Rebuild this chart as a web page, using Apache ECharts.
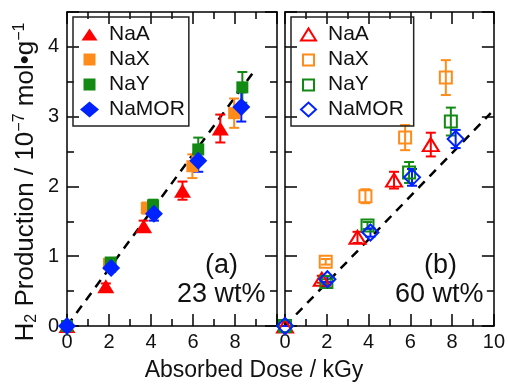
<!DOCTYPE html>
<html>
<head>
<meta charset="utf-8">
<script src="https://cdn.jsdelivr.net/npm/echarts@6/dist/echarts.min.js"></script>
<style>
html, body { margin: 0; padding: 0; background: #fff; }
#main { width: 508px; height: 384px; }
</style>
</head>
<body>
<div id="main"></div>
<script>
var myChart = echarts.init(document.getElementById('main'));

// [dose kGy, H2 production, error]
var left_NaA   = [[0, 0, 0], [1.85, 0.57, 0.04], [3.65, 1.43, 0.08], [5.5, 1.94, 0.13], [7.3, 2.83, 0.2]];
var left_NaX   = [[0, 0, 0], [2.0, 0.89, 0.05], [3.8, 1.69, 0.08], [5.97, 2.29, 0.17], [7.96, 3.05, 0.21]];
var left_NaY   = [[0, 0, 0], [2.08, 0.91, 0.05], [4.1, 1.73, 0.08], [6.25, 2.53, 0.17], [8.35, 3.42, 0.22]];
var left_NaMOR = [[0, 0, 0], [2.1, 0.83, 0.05], [4.14, 1.61, 0.1], [6.25, 2.37, 0.16], [8.3, 3.14, 0.21]];

var right_NaA   = [[0, 0, 0], [1.76, 0.67, 0.05], [3.47, 1.27, 0.08], [5.22, 2.09, 0.12], [6.98, 2.6, 0.17]];
var right_NaX   = [[0, 0, 0], [1.95, 0.92, 0.04], [3.85, 1.86, 0.1], [5.75, 2.7, 0.18], [7.7, 3.56, 0.25]];
var right_NaY   = [[0, 0, 0], [1.98, 0.63, 0.04], [3.95, 1.44, 0.05], [5.94, 2.2, 0.15], [7.94, 2.93, 0.2]];
var right_NaMOR = [[0, 0, 0], [2.03, 0.67, 0.04], [4.09, 1.34, 0.06], [6.08, 2.13, 0.12], [8.17, 2.68, 0.13]];

// dashed guide lines
var left_fit  = [[0, 0], [9.0, 3.69]];
var right_fit = [[0, 0], [9.85, 3.05]];

var names  = ['NaA', 'NaX', 'NaY', 'NaMOR'];
var colors = ['#ff0000', '#ff8c1a', '#138a13', '#0022ff'];
var symbols = ['triangle', 'rect', 'rect', 'diamond'];
var sizesFilled = [[17, 14], 12, 12, 18];
var sizesOpen = [[16, 13], 12, 12, 16];

// legend icons in a 19x16 box (corner points fix the box so shapes keep their own size)
var BOX = 'M0 0L0 0M19 16L19 16';
var iconsFilled = [
    'path://' + BOX + 'M1.5 14L17.5 14L9.5 2Z',
    'path://' + BOX + 'M3.5 2L15.5 2L15.5 14L3.5 14Z',
    'path://' + BOX + 'M3.5 2L15.5 2L15.5 14L3.5 14Z',
    'path://' + BOX + 'M0 8L9.5 0L19 8L9.5 16Z'
];
var iconsOpen = [
    'path://' + BOX + 'M2 14L17 14L9.5 2Z',
    'path://' + BOX + 'M4 3L15 3L15 14L4 14Z',
    'path://' + BOX + 'M4 3L15 3L15 14L4 14Z',
    'path://' + BOX + 'M2 8L9.5 1L17 8L9.5 15Z'
];

var FONT = 'Liberation Sans';

function xAxis(grid, pos, labels, hideTen) {
    return {
        gridIndex: grid, type: 'value', position: pos,
        min: 0, max: 10, interval: 2,
        axisLine: { onZero: false, lineStyle: { color: '#000', width: 1.5 } },
        axisTick: { inside: true, length: 12, lineStyle: { color: '#000', width: 1.5 } },
        minorTick: { show: true, splitNumber: 2, length: 7, lineStyle: { color: '#000', width: 1.5 } },
        splitLine: { show: false },
        axisLabel: {
            show: labels, color: '#111', fontFamily: FONT, fontSize: 20, margin: 6,
            formatter: function (v) { return (hideTen && v === 10) ? '' : String(v); }
        }
    };
}

function yAxis(grid, pos, labels) {
    return {
        gridIndex: grid, type: 'value', position: pos,
        min: 0, max: 4.5, interval: 1,
        axisLine: { onZero: false, lineStyle: { color: '#000', width: 1.5 } },
        axisTick: { inside: true, length: 12, lineStyle: { color: '#000', width: 1.5 } },
        minorTick: { show: true, splitNumber: 2, length: 7, lineStyle: { color: '#000', width: 1.5 } },
        splitLine: { show: false },
        axisLabel: {
            show: labels, color: '#111', fontFamily: FONT, fontSize: 20, margin: 8,
            formatter: function (v) { return Number.isInteger(v) ? String(v) : ''; }
        }
    };
}

function errBars(data, xi, yi, color) {
    return {
        type: 'custom', xAxisIndex: xi, yAxisIndex: yi, z: 2,
        data: data.map(function (d) { return [d[0], d[1] - d[2], d[1] + d[2]]; }),
        renderItem: function (params, api) {
            var lo = api.coord([api.value(0), api.value(1)]);
            var hi = api.coord([api.value(0), api.value(2)]);
            var w = 5, st = { stroke: color, lineWidth: 2 };
            return {
                type: 'group', children: [
                    { type: 'line', shape: { x1: lo[0], y1: lo[1], x2: hi[0], y2: hi[1] }, style: st },
                    { type: 'line', shape: { x1: lo[0] - w, y1: lo[1], x2: lo[0] + w, y2: lo[1] }, style: st },
                    { type: 'line', shape: { x1: hi[0] - w, y1: hi[1], x2: hi[0] + w, y2: hi[1] }, style: st }
                ]
            };
        }
    };
}

var leftSets = [left_NaA, left_NaX, left_NaY, left_NaMOR];
var rightSets = [right_NaA, right_NaX, right_NaY, right_NaMOR];

var series = [];
// panel (a): filled symbols
leftSets.forEach(function (d, i) {
    series.push(errBars(d, 0, 0, colors[i]));
    series.push({
        name: names[i], type: 'scatter', xAxisIndex: 0, yAxisIndex: 0, z: 3,
        symbol: symbols[i], symbolSize: sizesFilled[i],
        itemStyle: { color: colors[i], opacity: 1 },
        data: d.map(function (p) { return [p[0], p[1]]; })
    });
});
// panel (b): open symbols
rightSets.forEach(function (d, i) {
    series.push(errBars(d, 2, 2, colors[i]));
    series.push({
        name: names[i] + ' ', type: 'scatter', xAxisIndex: 2, yAxisIndex: 2, z: 3,
        symbol: symbols[i], symbolSize: sizesOpen[i],
        itemStyle: { color: 'rgba(255,255,255,0)', borderColor: colors[i], borderWidth: 2, opacity: 1 },
        data: d.map(function (p) { return [p[0], p[1]]; })
    });
});
series.push({
    type: 'line', xAxisIndex: 0, yAxisIndex: 0, z: 1, symbol: 'none',
    lineStyle: { color: '#000', width: 2.5, type: [9, 7] }, data: left_fit
});
series.push({
    type: 'line', xAxisIndex: 2, yAxisIndex: 2, z: 1, symbol: 'none',
    lineStyle: { color: '#000', width: 2.5, type: [9, 7] }, data: right_fit
});

function legend(left, data) {
    return {
        orient: 'vertical', left: left, top: 17,
        data: data, selectedMode: false,
        borderColor: '#222', borderWidth: 1.5, borderRadius: 0,
        padding: [7, 4, 6, 7], itemGap: 4,
        itemWidth: 19, itemHeight: 16,
        textStyle: { fontFamily: FONT, fontSize: 21, color: '#111', padding: [0, 0, 0, 5] }
    };
}

var option = {
    animation: false,
    backgroundColor: '#fff',
    grid: [
        { left: 67, top: 12, width: 210, height: 314 },
        { left: 285, top: 12, width: 210, height: 314 }
    ],
    xAxis: [
        xAxis(0, 'bottom', true, true),
        xAxis(0, 'top', false, false),
        xAxis(1, 'bottom', true, false),
        xAxis(1, 'top', false, false)
    ],
    yAxis: [
        Object.assign(yAxis(0, 'left', true), {
            name: '{n|H}{sub|2}{n| Production / 10}{sup|−7}{n| mol•g}{sup|−1}',
            nameLocation: 'middle', nameGap: 27,
            nameTextStyle: {
                padding: [0, 26, 0, 0],
                rich: {
                    n: { fontFamily: FONT, fontSize: 26, color: '#111', lineHeight: 28 },
                    sub: { fontFamily: FONT, fontSize: 16, color: '#111', verticalAlign: 'bottom', lineHeight: 14 },
                    sup: { fontFamily: FONT, fontSize: 16, color: '#111', verticalAlign: 'top', lineHeight: 14 }
                }
            }
        }),
        yAxis(0, 'right', false),
        yAxis(1, 'left', false),
        yAxis(1, 'right', false)
    ],
    legend: [
        legend(73, names.map(function (n, i) { return { name: n, icon: iconsFilled[i] }; })),
        legend(291, names.map(function (n, i) { return { name: n + ' ', icon: iconsOpen[i] }; }))
    ],
    graphic: [
        { type: 'text', left: 'center', top: 359, style: { text: 'Absorbed Dose / kGy', font: '23px "Liberation Sans"', fill: '#111' } },
        { type: 'text', left: 205, top: 252, style: { text: '(a)', font: '27px "Liberation Sans"', fill: '#111' } },
        { type: 'text', left: 177, top: 281, style: { text: '23 wt%', font: '27px "Liberation Sans"', fill: '#111' } },
        { type: 'text', left: 424, top: 252, style: { text: '(b)', font: '27px "Liberation Sans"', fill: '#111' } },
        { type: 'text', left: 395, top: 281, style: { text: '60 wt%', font: '27px "Liberation Sans"', fill: '#111' } }
    ],
    series: series
};

myChart.setOption(option);
</script>
</body>
</html>
